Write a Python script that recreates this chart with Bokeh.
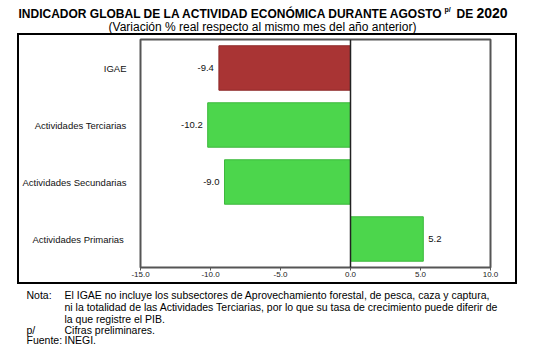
from bokeh.plotting import figure
from bokeh.layouts import column
from bokeh.models import (Range1d, FactorRange, FixedTicker, NumeralTickFormatter,
                          Span, Label, ColumnDataSource)
from bokeh.core.properties import value
from bokeh.embed import file_html
from bokeh.resources import INLINE

categories = ["IGAE", "Actividades Terciarias", "Actividades Secundarias", "Actividades  Primarias"]
values = [-9.4, -10.2, -9.0, 5.2]
value_labels = ["-9.4", "-10.2", "-9.0", "5.2"]
bar_colors = ["#A93434", "#4CD64C", "#4CD64C", "#4CD64C"]
line_colors = ["#8E2A2A", "#3DB83D", "#3DB83D", "#3DB83D"]
x_ticks = [-15, -10, -5, 0, 5, 10]

title_main = "INDICADOR GLOBAL DE LA ACTIVIDAD ECONÓMICA DURANTE AGOSTO"
subtitle = "(Variación % real respecto al mismo mes del año anterior)"
notes_labels = ["Nota:", "", "", "p/", "Fuente:"]
notes_texts = [
    "El IGAE no incluye los subsectores de Aprovechamiento forestal, de pesca, caza y captura,",
    "ni la totalidad de las Actividades Terciarias, por lo que su tasa de crecimiento puede diferir de",
    "la que registre el PIB.",
    "Cifras preliminares.",
    "INEGI.",
]

FONT = "Liberation Sans"
PAGE_W = 529


def text_fig(y0, y1):
    """Blank figure covering picture rows y0..y1, using picture pixel coords."""
    f = figure(width=PAGE_W, height=y1 - y0, output_backend="svg", toolbar_location=None,
               x_range=Range1d(0, PAGE_W), y_range=Range1d(y1, y0),
               min_border=0, x_axis_type=None, y_axis_type=None, frame_align=False)
    f.outline_line_color = None
    f.xgrid.visible = False
    f.ygrid.visible = False
    f.background_fill_color = "white"
    f.border_fill_color = "white"
    return f


def lab(f, x, y, text, size, bold=False, align="left"):
    f.add_layout(Label(x=x, y=y, text=text, text_font=FONT, text_font_size=size,
                       text_font_style="bold" if bold else "normal",
                       text_align=align, text_baseline="middle", text_color="black"))


# ---- title block ----
t = text_fig(0, 33)
lab(t, 18, 13, title_main, "12px", bold=True)
lab(t, 444, 9, "p/", "7px", bold=True)
lab(t, 456, 13, "DE", "12px", bold=True)
lab(t, 476, 12, "2020", "14px", bold=True)
lab(t, 262, 26, subtitle, "12px", align="center")

# ---- main chart (inside the black box) ----
p = figure(width=496, height=247, output_backend="svg", toolbar_location=None,
           x_range=Range1d(-15, 10),
           y_range=FactorRange(factors=list(reversed(categories)), range_padding=0),
           min_border_left=115, min_border_right=29, min_border_top=4, min_border_bottom=19,
           styles={"border": "2px solid black", "box-sizing": "content-box"},
           margin=(0, 0, 0, 17), frame_align=False)
p.background_fill_color = "white"
p.border_fill_color = "white"
p.outline_line_color = "#555555"
p.outline_line_width = 2
p.xgrid.visible = False
p.ygrid.visible = False

p.xaxis.ticker = FixedTicker(ticks=x_ticks)
p.xaxis.formatter = NumeralTickFormatter(format="0.0")
p.xaxis.axis_line_color = None
p.xaxis.major_tick_line_color = "#555555"
p.xaxis.major_tick_in = 0
p.xaxis.major_tick_out = 3
p.xaxis.minor_tick_line_color = None
p.xaxis.major_label_text_font = FONT
p.xaxis.major_label_text_font_size = "8px"
p.xaxis.major_label_text_color = "#222222"
p.xaxis.major_label_standoff = 1

p.yaxis.axis_line_color = None
p.yaxis.major_tick_line_color = None
p.yaxis.minor_tick_line_color = None
p.yaxis.major_label_text_font = FONT
p.yaxis.major_label_text_font_size = "9.5px"
p.yaxis.major_label_text_color = "#111111"
p.yaxis.major_label_standoff = 8

src = ColumnDataSource(dict(cat=categories, val=values, color=bar_colors, lcolor=line_colors))
p.hbar(y="cat", left=0, right="val", height=0.78, fill_color="color",
       line_color="lcolor", line_width=1, source=src)

p.add_layout(Span(location=0, dimension="height", line_color="#222222", line_width=1.5))

neg = ColumnDataSource(dict(cat=[c for c, v in zip(categories, values) if v < 0],
                            val=[v for v in values if v < 0],
                            lab=[l for l, v in zip(value_labels, values) if v < 0]))
pos = ColumnDataSource(dict(cat=[c for c, v in zip(categories, values) if v >= 0],
                            val=[v for v in values if v >= 0],
                            lab=[l for l, v in zip(value_labels, values) if v >= 0]))
p.text(x="val", y="cat", text="lab", source=neg, x_offset=-5, text_align="right",
       text_baseline="middle", text_font=value(FONT), text_font_size="9.5px", text_color="#111111")
p.text(x="val", y="cat", text="lab", source=pos, x_offset=5, text_align="left",
       text_baseline="middle", text_font=value(FONT), text_font_size="9.5px", text_color="#111111")

# ---- notes block ----
n = text_fig(284, 347)
ys = [294, 306, 318, 329, 339]
for y, a, b in zip(ys, notes_labels, notes_texts):
    if a:
        lab(n, 26, y, a, "10.5px")
    lab(n, 64, y, b, "10.5px")

layout = column(t, p, n, spacing=0)
open("out.html", "w").write(file_html(layout, INLINE))
